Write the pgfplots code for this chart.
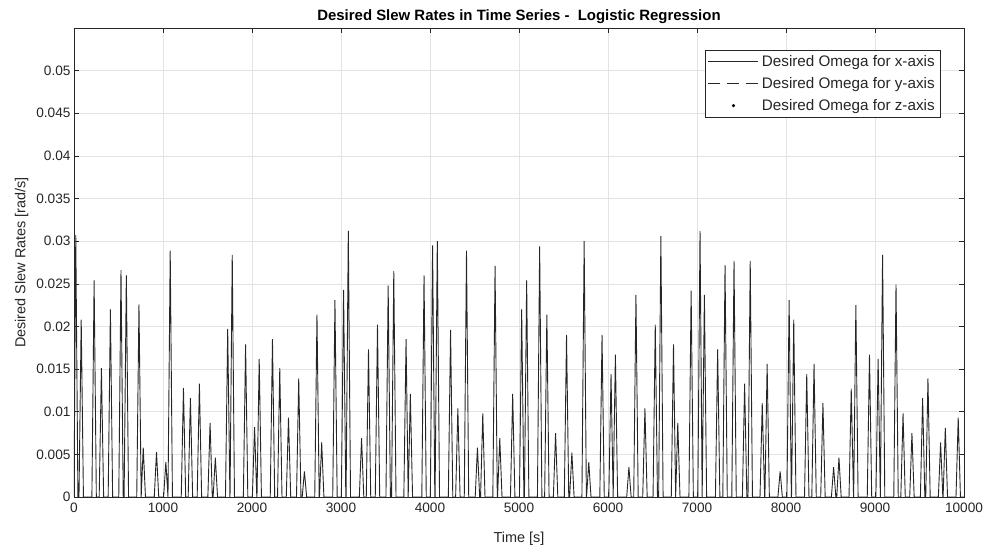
\documentclass[border=0pt]{standalone}
\usepackage{fontspec}
\setmainfont{Liberation Sans}
\usepackage{pgfplots}
\pgfplotsset{compat=1.18}

\definecolor{axgray}{HTML}{262626}
\definecolor{gridgray}{HTML}{E3E3E3}

\begin{document}
\begin{tikzpicture}[x=1bp,y=1bp]
\begin{axis}[
  name=ax,
  scale only axis,
  width=890bp, height=469bp,
  xmin=0, xmax=10000,
  ymin=0, ymax=0.055,
  xtick={0,1000,...,10000},
  ytick={0,0.005,0.01,0.015,0.02,0.025,0.03,0.035,0.04,0.045,0.05},
  scaled y ticks=false,
  scaled x ticks=false,
  /pgf/number format/assume math mode=true,
  xticklabel style={/pgf/number format/1000 sep={}, yshift=-2bp},
  yticklabel style={/pgf/number format/fixed,/pgf/number format/precision=3},
  tick label style={font=\fontsize{13.7}{15}\selectfont, text=axgray},
  grid=major,
  major grid style={gridgray, line width=0.6bp},
  axis line style={axgray, line width=0.7bp},
  major tick length=5bp,
  tick style={axgray, line width=0.6bp},
  title={\bfseries Desired Slew Rates in Time Series -\ \ Logistic Regression},
  title style={font=\fontsize{15}{17}\selectfont, text=black, yshift=-5bp},
  xlabel={Time [s]},
  ylabel={Desired Slew Rates [rad/s]},
  label style={font=\fontsize{14.5}{16}\selectfont, text=axgray},
  xlabel style={yshift=-13bp},
  ylabel style={yshift=1bp},
  legend cell align=left,
  legend style={
    at={(1,1)}, anchor=north east, xshift=-23bp, yshift=-22bp,
    font=\fontsize{15.3}{17}\selectfont, text=axgray,
    draw=axgray, line width=0.6bp, inner xsep=3bp, inner ysep=3bp,
    row sep=5.5bp,
    nodes={inner xsep=3bp},
  },
  legend image code/.code={\draw[#1] (0bp,0bp) -- (50bp,0bp);},
]
\coordinate (bbsw) at (rel axis cs:0,0);
\coordinate (bbne) at (rel axis cs:1,1);

% Desired slew rate about the x-axis: one short triangular pulse per manoeuvre
\addplot[black!85, line width=0.9bp, line join=miter] coordinates {
(0,0) (20,0.0307) (44,0)
(56,0) (81,0.0208) (106,0)
(201,0) (226,0.0254) (251,0)
(283,0) (308,0.0151) (333,0)
(384,0) (409,0.0220) (434,0)
(503,0) (528,0.0266) (553,0)
(563,0) (588,0.0260) (613,0)
(705,0) (730,0.0226) (755,0)
(755,0) (778,0.0058) (803,0)
(902,0) (927,0.0053) (952,0)
(1007,0) (1032,0.0041) (1056,0)
(1056,0) (1081,0.0289) (1106,0)
(1205,0) (1230,0.0128) (1255,0)
(1283,0) (1308,0.0116) (1333,0)
(1384,0) (1409,0.0133) (1434,0)
(1504,0) (1529,0.0087) (1554,0)
(1563,0) (1588,0.0046) (1613,0)
(1702,0) (1727,0.0197) (1752,0)
(1753,0) (1778,0.0284) (1803,0)
(1903,0) (1928,0.0179) (1953,0)
(2004,0) (2029,0.0082) (2054,0)
(2056,0) (2081,0.0162) (2106,0)
(2205,0) (2230,0.0185) (2255,0)
(2287,0) (2312,0.0151) (2337,0)
(2385,0) (2410,0.0093) (2435,0)
(2500,0) (2525,0.0139) (2550,0)
(2564,0) (2589,0.0030) (2614,0)
(2705,0) (2730,0.0214) (2755,0)
(2758,0) (2783,0.0064) (2808,0)
(2907,0) (2932,0.0231) (2957,0)
(3004,0) (3029,0.0243) (3054,0)
(3057,0) (3082,0.0312) (3107,0)
(3206,0) (3231,0.0069) (3256,0)
(3284,0) (3309,0.0173) (3334,0)
(3385,0) (3410,0.0202) (3435,0)
(3505,0) (3530,0.0248) (3555,0)
(3568,0) (3593,0.0265) (3618,0)
(3706,0) (3731,0.0185) (3755,0)
(3755,0) (3779,0.0121) (3804,0)
(3908,0) (3933,0.0260) (3958,0)
(4004,0) (4029,0.0295) (4054,0)
(4057,0) (4082,0.0300) (4107,0)
(4206,0) (4231,0.0196) (4256,0)
(4288,0) (4313,0.0104) (4338,0)
(4385,0) (4410,0.0289) (4435,0)
(4508,0) (4533,0.0058) (4558,0)
(4568,0) (4593,0.0098) (4618,0)
(4706,0) (4731,0.0271) (4756,0)
(4759,0) (4784,0.0069) (4809,0)
(4904,0) (4929,0.0121) (4954,0)
(5005,0) (5030,0.0220) (5055,0)
(5061,0) (5086,0.0254) (5111,0)
(5207,0) (5232,0.0294) (5257,0)
(5288,0) (5313,0.0214) (5338,0)
(5386,0) (5411,0.0075) (5436,0)
(5509,0) (5534,0.0190) (5559,0)
(5569,0) (5594,0.0052) (5619,0)
(5707,0) (5732,0.0300) (5757,0)
(5759,0) (5784,0.0041) (5809,0)
(5908,0) (5933,0.0190) (5958,0)
(6009,0) (6034,0.0144) (6058,0)
(6058,0) (6083,0.0167) (6108,0)
(6210,0) (6235,0.0035) (6260,0)
(6289,0) (6314,0.0237) (6339,0)
(6390,0) (6415,0.0104) (6440,0)
(6506,0) (6531,0.0202) (6556,0)
(6569,0) (6594,0.0306) (6619,0)
(6711,0) (6736,0.0179) (6760,0)
(6760,0) (6784,0.0087) (6809,0)
(6909,0) (6934,0.0242) (6959,0)
(7009,0) (7034,0.0312) (7058,0)
(7058,0) (7083,0.0237) (7108,0)
(7207,0) (7232,0.0173) (7257,0)
(7290,0) (7315,0.0272) (7340,0)
(7391,0) (7416,0.0277) (7441,0)
(7510,0) (7535,0.0133) (7560,0)
(7573,0) (7598,0.0277) (7623,0)
(7708,0) (7733,0.0110) (7760,0)
(7763,0) (7788,0.0156) (7813,0)
(7909,0) (7934,0.0030) (7959,0)
(8010,0) (8035,0.0231) (8060,0)
(8062,0) (8087,0.0208) (8112,0)
(8208,0) (8233,0.0144) (8258,0)
(8290,0) (8315,0.0156) (8340,0)
(8390,0) (8415,0.0110) (8440,0)
(8510,0) (8535,0.0035) (8560,0)
(8570,0) (8595,0.0046) (8620,0)
(8708,0) (8733,0.0127) (8759,0)
(8760,0) (8785,0.0225) (8810,0)
(8913,0) (8938,0.0167) (8963,0)
(9010,0) (9035,0.0162) (9060,0)
(9060,0) (9085,0.0284) (9110,0)
(9211,0) (9236,0.0249) (9261,0)
(9290,0) (9315,0.0098) (9340,0)
(9390,0) (9415,0.0075) (9440,0)
(9510,0) (9535,0.0116) (9560,0)
(9570,0) (9595,0.0139) (9620,0)
(9712,0) (9737,0.0064) (9762,0)
(9765,0) (9790,0.0081) (9815,0)
(9910,0) (9935,0.0093) (9960,0)
(10000,0)
};
\addlegendentry{Desired Omega for x-axis}
\addlegendimage{black!85, line width=0.9bp, dash pattern=on 12bp off 7bp}
\addlegendentry{Desired Omega for y-axis}
\addlegendimage{only marks, mark=*, mark size=1.2bp, black,
  legend image code/.code={\fill[black] (25bp,0bp) circle (1.3bp);}}
\addlegendentry{Desired Omega for z-axis}
\end{axis}
\pgfresetboundingbox
\path ([xshift=-74bp,yshift=-49bp]bbsw) rectangle ([xshift=28bp,yshift=28bp]bbne);
\end{tikzpicture}
\end{document}
